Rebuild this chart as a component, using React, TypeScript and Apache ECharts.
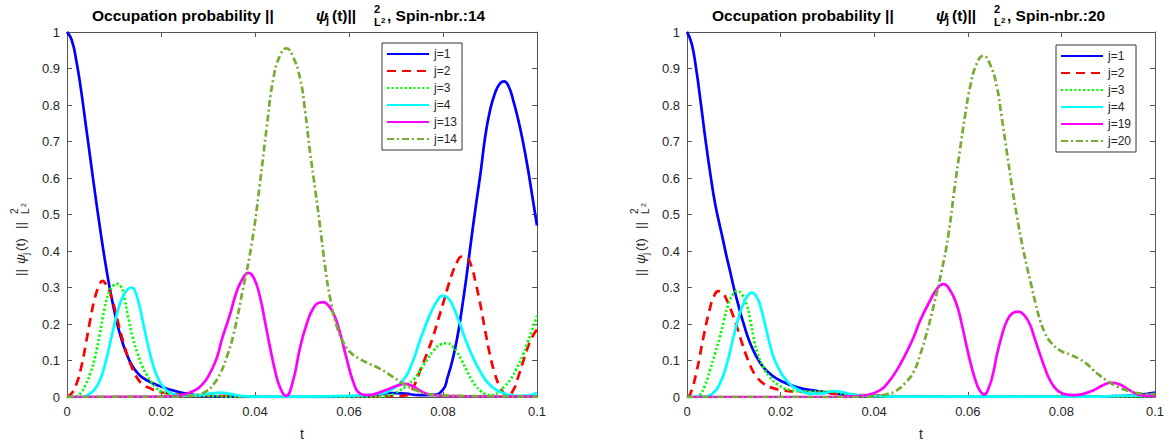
import React, { useEffect, useRef } from "react";
import * as echarts from "echarts";

// ---------- data (t, probability) ----------
const X_TICKS = [0, 0.02, 0.04, 0.06, 0.08, 0.1];
const Y_TICKS = [0, 0.1, 0.2, 0.3, 0.4, 0.5, 0.6, 0.7, 0.8, 0.9, 1];

const LEFT_NAMES = ["j=1", "j=2", "j=3", "j=4", "j=13", "j=14"];
const RIGHT_NAMES = ["j=1", "j=2", "j=3", "j=4", "j=19", "j=20"];
const LEFT_SPIN = 14;
const RIGHT_SPIN = 20;

// Spin-nbr. 14
const L_J1 = [[0,1],[0.001,0.978],[0.002,0.92],[0.003,0.84],[0.004,0.745],[0.005,0.65],[0.006,0.555],[0.007,0.465],[0.008,0.38],[0.009,0.305],[0.010,0.24],[0.011,0.185],[0.012,0.142],[0.013,0.108],[0.014,0.083],[0.015,0.066],[0.016,0.054],[0.018,0.039],[0.020,0.029],[0.022,0.02],[0.024,0.013],[0.026,0.008],[0.028,0.004],[0.030,0.002],[0.035,0.001],[0.04,0],[0.05,0],[0.06,0.001],[0.065,0.004],[0.069,0.011],[0.072,0.009],[0.075,0.005],[0.078,0.006],[0.080,0.02],[0.081,0.055],[0.082,0.1],[0.083,0.16],[0.084,0.24],[0.085,0.33],[0.086,0.43],[0.087,0.525],[0.088,0.615],[0.089,0.715],[0.090,0.785],[0.091,0.83],[0.092,0.857],[0.093,0.865],[0.094,0.85],[0.095,0.81],[0.096,0.76],[0.097,0.7],[0.098,0.63],[0.099,0.55],[0.1,0.47]];
const L_J2 = [[0,0],[0.001,0.01],[0.002,0.035],[0.003,0.08],[0.004,0.145],[0.005,0.215],[0.006,0.275],[0.007,0.31],[0.0075,0.318],[0.008,0.314],[0.009,0.29],[0.010,0.25],[0.011,0.197],[0.012,0.15],[0.013,0.108],[0.014,0.075],[0.015,0.051],[0.016,0.036],[0.018,0.022],[0.020,0.013],[0.022,0.009],[0.025,0.006],[0.03,0.004],[0.035,0.002],[0.04,0.001],[0.05,0],[0.06,0.001],[0.065,0.002],[0.07,0.002],[0.072,0.004],[0.073,0.012],[0.074,0.035],[0.075,0.068],[0.076,0.1],[0.077,0.133],[0.078,0.17],[0.079,0.213],[0.080,0.255],[0.081,0.3],[0.082,0.34],[0.083,0.37],[0.084,0.385],[0.085,0.382],[0.086,0.36],[0.087,0.31],[0.088,0.25],[0.089,0.18],[0.090,0.115],[0.091,0.065],[0.092,0.03],[0.093,0.009],[0.0937,0.003],[0.095,0.02],[0.096,0.055],[0.097,0.095],[0.098,0.135],[0.099,0.165],[0.1,0.185]];
const L_J3 = [[0,0],[0.002,0.002],[0.003,0.012],[0.004,0.035],[0.005,0.067],[0.006,0.112],[0.007,0.175],[0.008,0.243],[0.009,0.288],[0.010,0.307],[0.0107,0.31],[0.0115,0.302],[0.012,0.285],[0.013,0.22],[0.014,0.162],[0.015,0.12],[0.016,0.085],[0.017,0.06],[0.018,0.04],[0.019,0.025],[0.020,0.015],[0.022,0.008],[0.025,0.005],[0.03,0.003],[0.035,0.001],[0.04,0],[0.06,0],[0.066,0.001],[0.0687,0.005],[0.07,0.012],[0.072,0.028],[0.0737,0.047],[0.075,0.07],[0.0765,0.1],[0.078,0.127],[0.0795,0.144],[0.0808,0.147],[0.082,0.139],[0.083,0.123],[0.084,0.1],[0.085,0.074],[0.086,0.049],[0.087,0.03],[0.088,0.017],[0.089,0.008],[0.0905,0.005],[0.092,0.015],[0.093,0.028],[0.0943,0.047],[0.0955,0.074],[0.097,0.115],[0.098,0.15],[0.099,0.185],[0.1,0.222]];
const L_J4 = [[0,0],[0.003,0],[0.004,0.003],[0.005,0.01],[0.006,0.023],[0.007,0.046],[0.008,0.085],[0.009,0.138],[0.010,0.195],[0.011,0.245],[0.012,0.278],[0.013,0.296],[0.0138,0.3],[0.0145,0.29],[0.0155,0.245],[0.016,0.215],[0.017,0.155],[0.018,0.102],[0.019,0.062],[0.020,0.036],[0.021,0.02],[0.022,0.012],[0.023,0.007],[0.025,0.004],[0.028,0.005],[0.0305,0.009],[0.0326,0.012],[0.035,0.008],[0.037,0.003],[0.04,0.001],[0.05,0.001],[0.06,0.003],[0.0666,0.009],[0.069,0.02],[0.0716,0.047],[0.0735,0.095],[0.0751,0.155],[0.0772,0.225],[0.0786,0.26],[0.0799,0.277],[0.081,0.272],[0.082,0.252],[0.0836,0.2],[0.085,0.15],[0.0865,0.105],[0.088,0.068],[0.0893,0.043],[0.091,0.022],[0.0928,0.011],[0.0955,0.003],[0.098,0.004],[0.1,0.012]];
const L_J13 = [[0,0],[0.02,0.001],[0.024,0.004],[0.0255,0.009],[0.027,0.017],[0.0283,0.028],[0.03,0.055],[0.0318,0.105],[0.033,0.16],[0.0347,0.227],[0.036,0.285],[0.0372,0.32],[0.0386,0.34],[0.0398,0.325],[0.0411,0.272],[0.042,0.215],[0.0432,0.136],[0.0443,0.07],[0.0453,0.027],[0.0466,0.003],[0.048,0.04],[0.0496,0.136],[0.051,0.2],[0.0524,0.243],[0.0538,0.259],[0.0545,0.26],[0.0552,0.256],[0.0566,0.232],[0.058,0.18],[0.0594,0.11],[0.061,0.038],[0.0623,0.01],[0.064,0.005],[0.066,0.01],[0.068,0.02],[0.0705,0.032],[0.0719,0.036],[0.0735,0.03],[0.075,0.018],[0.0765,0.009],[0.079,0.004],[0.085,0.002],[0.1,0.001]];
const L_J14 = [[0,0],[0.024,0.001],[0.0257,0.003],[0.028,0.007],[0.0297,0.016],[0.0312,0.035],[0.0326,0.064],[0.034,0.11],[0.0354,0.17],[0.0375,0.3],[0.0393,0.42],[0.041,0.58],[0.0425,0.74],[0.0439,0.872],[0.0453,0.935],[0.0467,0.955],[0.048,0.935],[0.0496,0.872],[0.0507,0.78],[0.0517,0.672],[0.0528,0.57],[0.0538,0.472],[0.0549,0.359],[0.056,0.27],[0.0575,0.19],[0.059,0.145],[0.0605,0.12],[0.0623,0.104],[0.0645,0.09],[0.0666,0.077],[0.069,0.058],[0.0716,0.036],[0.074,0.02],[0.0765,0.009],[0.08,0.004],[0.09,0.002],[0.1,0.001]];

// Spin-nbr. 20
const R_J1 = [[0,1],[0.001,0.968],[0.002,0.895],[0.003,0.8],[0.004,0.7],[0.005,0.61],[0.006,0.53],[0.007,0.47],[0.0076,0.436],[0.0084,0.388],[0.0092,0.345],[0.010,0.3],[0.0113,0.236],[0.012,0.205],[0.0135,0.147],[0.015,0.107],[0.0163,0.082],[0.018,0.061],[0.0199,0.045],[0.0234,0.027],[0.027,0.018],[0.032,0.009],[0.036,0.005],[0.04,0.002],[0.05,0.001],[0.06,0],[0.08,0.001],[0.09,0.002],[0.095,0.004],[0.098,0.008],[0.1,0.012]];
const R_J2 = [[0,0],[0.0007,0.008],[0.0021,0.073],[0.0035,0.163],[0.0049,0.243],[0.0058,0.277],[0.0067,0.29],[0.0076,0.285],[0.0085,0.266],[0.0095,0.235],[0.0106,0.195],[0.0117,0.15],[0.0128,0.109],[0.0138,0.078],[0.0149,0.055],[0.0163,0.037],[0.0177,0.027],[0.0206,0.018],[0.0234,0.015],[0.028,0.012],[0.033,0.008],[0.04,0.004],[0.05,0.001],[0.09,0.001],[0.095,0.003],[0.1,0.008]];
const R_J3 = [[0,0],[0.002,0],[0.0027,0.004],[0.0038,0.03],[0.0049,0.073],[0.006,0.12],[0.007,0.163],[0.0079,0.21],[0.0088,0.252],[0.0098,0.281],[0.0108,0.29],[0.0118,0.28],[0.0128,0.25],[0.0135,0.213],[0.0142,0.165],[0.015,0.122],[0.0163,0.082],[0.0177,0.055],[0.0192,0.036],[0.022,0.019],[0.0256,0.015],[0.0306,0.015],[0.034,0.008],[0.04,0.003],[0.05,0.001],[0.1,0.002]];
const R_J4 = [[0,0],[0.004,0.001],[0.0055,0.01],[0.007,0.036],[0.0085,0.09],[0.0099,0.163],[0.011,0.217],[0.012,0.254],[0.013,0.278],[0.0138,0.286],[0.0147,0.278],[0.0156,0.252],[0.017,0.182],[0.018,0.13],[0.0192,0.088],[0.0213,0.045],[0.0241,0.018],[0.027,0.009],[0.029,0.01],[0.0313,0.016],[0.033,0.014],[0.035,0.008],[0.038,0.003],[0.045,0.001],[0.085,0.001],[0.095,0.004],[0.1,0.006]];
const R_J19 = [[0,0],[0.03,0],[0.036,0.002],[0.0384,0.005],[0.0412,0.018],[0.043,0.04],[0.0448,0.073],[0.0466,0.115],[0.0484,0.163],[0.0498,0.209],[0.0519,0.263],[0.0535,0.298],[0.0548,0.309],[0.056,0.297],[0.0576,0.254],[0.0587,0.2],[0.0598,0.136],[0.0609,0.078],[0.0619,0.036],[0.0627,0.015],[0.0635,0.007],[0.0645,0.026],[0.0655,0.07],[0.0662,0.115],[0.0672,0.165],[0.0683,0.207],[0.0695,0.229],[0.0708,0.234],[0.072,0.225],[0.0733,0.198],[0.0743,0.16],[0.0754,0.118],[0.0765,0.078],[0.0776,0.045],[0.079,0.02],[0.0804,0.009],[0.0825,0.005],[0.0845,0.008],[0.0868,0.018],[0.089,0.033],[0.0908,0.039],[0.0925,0.034],[0.094,0.023],[0.0955,0.012],[0.0968,0.005],[0.1,0.002]];
const R_J20 = [[0,0],[0.035,0],[0.04,0.002],[0.0425,0.007],[0.0448,0.018],[0.0466,0.038],[0.0484,0.068],[0.0498,0.115],[0.0512,0.175],[0.0527,0.25],[0.0544,0.345],[0.0558,0.44],[0.0572,0.575],[0.0583,0.675],[0.0594,0.77],[0.0605,0.85],[0.0618,0.91],[0.0633,0.935],[0.0648,0.91],[0.0662,0.85],[0.0672,0.77],[0.0683,0.675],[0.0694,0.58],[0.0705,0.495],[0.0715,0.425],[0.0725,0.365],[0.0735,0.31],[0.0745,0.255],[0.0755,0.208],[0.0765,0.175],[0.0776,0.152],[0.0797,0.128],[0.082,0.115],[0.084,0.103],[0.0855,0.09],[0.0868,0.074],[0.0883,0.058],[0.0897,0.045],[0.092,0.028],[0.094,0.018],[0.0975,0.009],[0.1,0.008]];

const LEFT_DATA = [L_J1, L_J2, L_J3, L_J4, L_J13, L_J14];
const RIGHT_DATA = [R_J1, R_J2, R_J3, R_J4, R_J19, R_J20];

// ---------- styles ----------
const COLORS = ["#0000ff", "#ff0000", "#00ff00", "#00ffff", "#ff00ff", "#77ac30"];
const DASHES: any[] = ["solid", [9, 6], [2.2, 2.2], "solid", "solid", [7, 3, 2, 3]];
const FONT = '"Liberation Sans", Arial, Helvetica, sans-serif';
const AXIS_COLOR = "#262626";
const LINE_W = 2.7;

const GRIDS = [
  { left: 67, top: 32, width: 470, height: 368 },
  { left: 687, top: 32, width: 468, height: 368 },
];

function fmtX(v: number) { return String(Number(v.toFixed(2))); }
function fmtY(v: number) { return String(Number(v.toFixed(1))); }

function xAxis(gridIndex: number, position: string, labels: boolean) {
  return {
    type: "value", gridIndex, position, min: X_TICKS[0], max: X_TICKS[X_TICKS.length - 1],
    interval: X_TICKS[1] - X_TICKS[0],
    name: labels ? "t" : "", nameLocation: "middle", nameGap: 30,
    nameTextStyle: { color: AXIS_COLOR, fontSize: 14, fontFamily: FONT },
    axisLine: { show: true, onZero: false, lineStyle: { color: "#555", width: 1 } },
    axisTick: { show: true, inside: true, length: 5, lineStyle: { color: "#555" } },
    axisLabel: { show: labels, color: AXIS_COLOR, fontSize: 13, fontFamily: FONT, margin: 8, formatter: fmtX },
    splitLine: { show: false },
  };
}
function yAxis(gridIndex: number, position: string, labels: boolean) {
  return {
    type: "value", gridIndex, position, min: Y_TICKS[0], max: Y_TICKS[Y_TICKS.length - 1],
    interval: Y_TICKS[1] - Y_TICKS[0],
    axisLine: { show: true, onZero: false, lineStyle: { color: "#555", width: 1 } },
    axisTick: { show: true, inside: true, length: 5, lineStyle: { color: "#555" } },
    axisLabel: { show: labels, color: AXIS_COLOR, fontSize: 13, fontFamily: FONT, margin: 7, formatter: fmtY },
    splitLine: { show: false },
  };
}

function makeSeries(names: string[], datas: number[][][], axisIdx: number) {
  return names.map((name, i) => ({
    name, type: "line", xAxisIndex: axisIdx, yAxisIndex: axisIdx, data: datas[i],
    showSymbol: false, symbol: "none", smooth: 0.5,
    lineStyle: { color: COLORS[i], width: LINE_W, type: DASHES[i] },
    itemStyle: { color: COLORS[i] },
    z: 2 + i,
  }));
}

function legend(names: string[], left: number, top: number) {
  return {
    data: names, left, top, orient: "vertical", itemWidth: 42, itemHeight: 12, itemGap: 5,
    itemTextGap: 3, padding: [5, 5, 5, 4], borderColor: "#333", borderWidth: 1, borderRadius: 0,
    backgroundColor: "#fff", selectedMode: false,
    itemStyle: { opacity: 0 },
    textStyle: { color: AXIS_COLOR, fontSize: 12, fontFamily: FONT, lineHeight: 12 },
  };
}

function txt(x: number, y: number, text: string, font: string, fill = "#000") {
  return { type: "text", style: { x, y, text, font, fill, verticalAlign: "middle", align: "left" } };
}

function titleEls(x0: number, nbr: number) {
  const b = `bold 15.5px ${FONT}`;
  return [
    txt(x0 + 25, 15, "Occupation probability ||", b),
    txt(x0 + 249, 15, "ψ", `italic bold 15.5px ${FONT}`),
    txt(x0 + 259, 20, "j", `bold 11px ${FONT}`),
    txt(x0 + 265, 15, "(t)||", b),
    txt(x0 + 307, 9, "2", `bold 11px ${FONT}`),
    txt(x0 + 307, 22, "L", `bold 11px ${FONT}`),
    txt(x0 + 314, 20, "2", `bold 8px ${FONT}`),
    txt(x0 + 320, 15, `, Spin-nbr.:${nbr}`, b),
  ];
}

function yLabel(x: number) {
  const f = `13.5px ${FONT}`;
  const c = AXIS_COLOR;
  return {
    type: "group", x, y: 276, rotation: Math.PI / 2,
    children: [
      txt(0, 0, "||", f, c),
      txt(12, 0, "ψ", `italic 13.5px ${FONT}`, c),
      txt(21, 5, "j", `10px ${FONT}`, c),
      txt(25, 0, "(t)", f, c),
      txt(47, 0, "||", f, c),
      txt(62, -6, "2", `10px ${FONT}`, c),
      txt(62, 5, "L", `10px ${FONT}`, c),
      txt(69, 3, "2", `7px ${FONT}`, c),
    ],
  };
}

export default function App() {
  const ref = useRef<HTMLDivElement>(null);
  useEffect(() => {
    if (!ref.current) return;
    const chart = echarts.init(ref.current, undefined, { renderer: "svg" });
    chart.setOption({
      animation: false,
      backgroundColor: "#fff",
      grid: GRIDS,
      xAxis: [xAxis(0, "bottom", true), xAxis(1, "bottom", true), xAxis(0, "top", false), xAxis(1, "top", false)],
      yAxis: [yAxis(0, "left", true), yAxis(1, "left", true), yAxis(0, "right", false), yAxis(1, "right", false)],
      legend: [legend(LEFT_NAMES, 382, 43), legend(RIGHT_NAMES, 1056, 45)],
      series: [...makeSeries(LEFT_NAMES, LEFT_DATA, 0), ...makeSeries(RIGHT_NAMES, RIGHT_DATA, 1)],
      graphic: [
        ...titleEls(GRIDS[0].left, LEFT_SPIN),
        ...titleEls(GRIDS[1].left, RIGHT_SPIN),
        yLabel(20),
        yLabel(640),
      ],
    });
    return () => chart.dispose();
  }, []);
  return <div ref={ref} style={{ position: "absolute", left: 0, top: 0, width: 1170, height: 446 }} />;
}
